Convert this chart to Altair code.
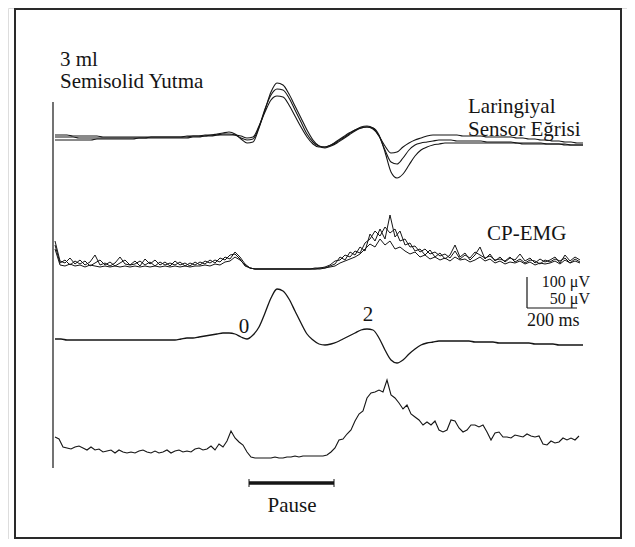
import altair as alt
import pandas as pd

# ---------------- data ----------------
# sampling intervals (ms)
DT_LAR = 24.0       # laryngeal sensor curves
DT_EMG = 20.0       # raw CP-EMG sweeps
DT_EMG_AVG = 16.0   # averaged CP-EMG

# laryngeal sensor sweeps (amplitude, arbitrary units, up = positive)
LAR_SWEEP_1 = [3, 3, 3, 3, 2, 2, 2, 2, 2, 2,
               2, 2, 2, 2, 2, 2, 3, 3, 3, 3,
               3, 3, 3, 4, 4, 5, 5, 6, 7, 8,
               6, 1, -3, -2, 12, 30, 48, 57, 55, 46,
               34, 22, 10, 0, -6, -8, -6, -3, 1, 5,
               9, 12, 13, 12, 5, -12, -32, -38, -34, -25,
               -16, -10, -7, -5, -4, -3, -3, -3, -3, -3,
               -3, -3, -3, -3, -3, -3, -3, -3, -4, -4,
               -4, -4, -4, -4, -4, -5, -5, -5, -5]
LAR_SWEEP_2 = [0, 0, 0, 0, 0, 0, 0, 1, 1, 1,
               1, 1, 1, 1, 2, 2, 2, 2, 2, 2,
               2, 2, 2, 3, 3, 4, 4, 5, 6, 6,
               5, 2, 0, 1, 13, 31, 45, 51, 50, 42,
               30, 18, 6, -2, -6, -7, -5, -2, 2, 6,
               10, 12, 13, 11, 4, -10, -22, -24, -18, -10,
               -5, -3, -2, -1, 0, 0, 0, -1, -1, -1,
               -1, -1, -2, -2, -2, -2, -2, -3, -3, -3,
               -3, -3, -4, -4, -4, -4, -5, -5, -5]
LAR_SWEEP_3 = [5, 5, 5, 4, 4, 4, 4, 4, 3, 3,
               3, 3, 3, 3, 3, 3, 3, 3, 3, 3,
               3, 3, 4, 4, 4, 4, 5, 5, 5, 5,
               5, 4, 2, 3, 14, 28, 40, 44, 43, 35,
               24, 13, 3, -4, -7, -7, -5, -1, 3, 7,
               10, 13, 14, 12, 4, -6, -13, -12, -7, -3,
               0, 2, 4, 5, 5, 5, 5, 5, 4, 4,
               4, 4, 3, 3, 3, 3, 3, 2, 2, 1,
               1, 0, 0, -1, -1, -2, -2, -3, -3]
# averaged laryngeal sensor curve
LAR_AVERAGE = [1, 1, 0, 0, 0, 0, 0, 0, 0, 0,
               0, 0, 0, 0, 0, 0, 0, 0, 0, 0,
               0, 1, 2, 2, 3, 4, 5, 6, 7, 7,
               6, 3, 1, 5, 13, 27, 42, 51, 49, 41,
               29, 17, 6, 0, -4, -5, -4, -2, 1, 4,
               7, 10, 11, 10, 2, -10, -20, -23, -20, -14,
               -9, -5, -3, -2, -1, -1, -1, -1, -1, -1,
               -2, -2, -2, -2, -3, -3, -3, -3, -3, -3,
               -4, -4, -4, -4, -5, -5, -5, -5, -5]

# raw CP-EMG sweeps (rectified amplitude, arbitrary units)
EMG_SWEEP_A = [28, 8, 6, 11, 5, 9, 4, 7, 14, 4,
               6, 3, 6, 12, 5, 4, 8, 3, 10, 5,
               9, 4, 7, 3, 8, 4, 6, 3, 7, 4,
               8, 6, 9, 7, 12, 10, 17, 12, 5, 1,
               0, 0, 0, 0, 0, 0, 0, 0, 0, 0,
               0, 0, 1, 1, 1, 3, 5, 12, 9, 17,
               14, 22, 18, 35, 28, 40, 30, 54, 32, 38,
               24, 26, 18, 20, 14, 19, 12, 16, 10, 14,
               24, 12, 16, 9, 14, 22, 10, 15, 8, 12,
               7, 11, 9, 15, 8, 11, 6, 10, 7, 9,
               12, 6, 14, 8, 12, 9]
EMG_SWEEP_B = [20, 4, 3, 5, 3, 4, 2, 4, 3, 2,
               3, 2, 3, 2, 3, 2, 3, 2, 3, 2,
               3, 2, 3, 2, 3, 2, 3, 2, 3, 3,
               4, 3, 5, 4, 7, 8, 12, 9, 4, 1,
               0, 0, 0, 0, 0, 0, 0, 0, 0, 0,
               0, 0, 0, 0, 1, 2, 3, 6, 8, 10,
               12, 15, 20, 25, 22, 30, 24, 28, 20, 22,
               18, 15, 17, 12, 14, 10, 12, 9, 11, 8,
               12, 9, 10, 7, 9, 12, 8, 10, 6, 8,
               5, 7, 6, 8, 5, 7, 4, 6, 5, 6,
               8, 5, 9, 6, 8, 6]
EMG_SWEEP_C = [24, 6, 9, 4, 8, 5, 8, 3, 6, 9,
               4, 7, 3, 6, 9, 4, 5, 8, 4, 7,
               3, 7, 4, 6, 4, 7, 3, 6, 4, 7,
               5, 9, 6, 11, 9, 14, 15, 10, 3, 1,
               0, 0, 0, 0, 0, 0, 0, 0, 0, 0,
               0, 0, 0, 1, 2, 4, 8, 9, 14, 12,
               18, 16, 26, 30, 38, 33, 42, 36, 40, 28,
               30, 22, 23, 17, 20, 15, 17, 13, 15, 11,
               18, 10, 14, 11, 17, 14, 11, 13, 9, 10,
               8, 12, 7, 10, 6, 9, 8, 5, 9, 7,
               10, 8, 11, 6, 10, 7]
# averaged CP-EMG
EMG_AVERAGE = [21, 19, 11, 10, 9, 11, 12, 10, 8, 11, 8,
               9, 6, 7, 8, 5, 8, 6, 5, 6, 5, 7,
               8, 6, 5, 7, 5, 6, 8, 5, 7, 8, 6,
               7, 6, 9, 10, 8, 9, 12, 8, 14, 11, 17,
               27, 20, 16, 13, 6, 1, 0, 0, 0, 0, 0,
               1, 0, 0, 1, 1, 2, 1, 2, 2, 2, 2,
               2, 2, 3, 6, 10, 18, 19, 24, 28, 37, 44,
               47, 60, 65, 66, 68, 66, 78, 63, 60, 55, 49,
               53, 44, 41, 38, 33, 36, 33, 37, 28, 26, 28,
               38, 37, 30, 26, 28, 33, 33, 31, 33, 26, 18,
               25, 26, 21, 21, 20, 23, 22, 21, 24, 22, 21,
               22, 14, 13, 17, 15, 16, 20, 18, 20, 18, 22]

# ---------------- layout (baselines of each trace, scale) ----------------
BASE_LAR, BASE_EMG, BASE_LAR_AVG, BASE_EMG_AVG = 140, 269, 340, 458
X_DOM = [-188, 2288]   # ms across the page width
Y_DOM = [8, 539]       # vertical layout units, top to bottom
INK = "#151515"
FONT = "Liberation Serif"


def sweep(values, dt, base, name):
    return pd.DataFrame({
        "t": [i * dt for i in range(len(values))],
        "y": [base - v for v in values],
        "sweep": name,
    })


lar = pd.concat([sweep(LAR_SWEEP_1, DT_LAR, BASE_LAR, "l1"),
                 sweep(LAR_SWEEP_2, DT_LAR, BASE_LAR, "l2"),
                 sweep(LAR_SWEEP_3, DT_LAR, BASE_LAR, "l3")])
emg = pd.concat([sweep(EMG_SWEEP_A, DT_EMG, BASE_EMG, "e1"),
                 sweep(EMG_SWEEP_B, DT_EMG, BASE_EMG, "e2"),
                 sweep(EMG_SWEEP_C, DT_EMG, BASE_EMG, "e3")])
lar_avg = sweep(LAR_AVERAGE, DT_LAR, BASE_LAR_AVG, "la")
emg_avg = sweep(EMG_AVERAGE, DT_EMG_AVG, BASE_EMG_AVG, "ea")

X = alt.X("t:Q", scale=alt.Scale(domain=X_DOM, nice=False, zero=False), axis=None)
Y = alt.Y("y:Q", scale=alt.Scale(domain=Y_DOM, nice=False, zero=False, reverse=True), axis=None)


def lines(df, width, interp):
    return alt.Chart(df).mark_line(color=INK, strokeWidth=width, interpolate=interp).encode(
        x=X, y=Y, detail="sweep:N")


layers = [
    lines(lar, 1.1, "monotone"),
    lines(emg, 1.0, "linear"),
    lines(lar_avg, 1.3, "monotone"),
    lines(emg_avg, 1.1, "linear"),
]

# vertical reference line, scale bars and pause bar
rules = pd.DataFrame([
    {"t": -8, "t2": -8, "y": 102, "y2": 468, "w": 1.2},        # start line
    {"t": 1888, "t2": 1888, "y": 277, "y2": 308, "w": 1.2},    # 50 µV bar
    {"t": 1888, "t2": 2088, "y": 308, "y2": 308, "w": 1.2},    # 200 ms bar
    {"t": 776, "t2": 1116, "y": 483, "y2": 483, "w": 3.5},     # pause bar
    {"t": 776, "t2": 776, "y": 479, "y2": 487, "w": 1.0},
    {"t": 1116, "t2": 1116, "y": 479, "y2": 487, "w": 1.0},
])
layers.append(alt.Chart(rules).mark_rule(color=INK).encode(
    x=X, x2="t2:Q", y=Y, y2="y2:Q",
    strokeWidth=alt.StrokeWidth("w:Q", scale=None)))

left_text = pd.DataFrame([
    {"t": 20, "y": 66, "text": "3 ml"},
    {"t": 20, "y": 88, "text": "Semisolid Yutma"},
    {"t": 1652, "y": 113, "text": "Laringiyal"},
    {"t": 1652, "y": 136, "text": "Sensor Eğrisi"},
    {"t": 1728, "y": 240, "text": "CP-EMG"},
])
center_text = pd.DataFrame([
    {"t": 756, "y": 333, "text": "0"},
    {"t": 1252, "y": 321, "text": "2"},
    {"t": 948, "y": 512, "text": "Pause"},
])
scale_right = pd.DataFrame([
    {"t": 2140, "y": 287, "text": "100 μV"},
    {"t": 2140, "y": 304, "text": "50 μV"},
])
scale_left = pd.DataFrame([
    {"t": 1888, "y": 326, "text": "200 ms"},
])
for df, align, size in [(left_text, "left", 21), (center_text, "center", 21),
                        (scale_right, "right", 16), (scale_left, "left", 18)]:
    layers.append(alt.Chart(df).mark_text(
        align=align, baseline="alphabetic", font=FONT, fontSize=size, color=INK
    ).encode(x=X, y=Y, text="text:N"))

# frame of the figure
layers.append(alt.Chart(pd.DataFrame({"k": [0]})).mark_rect(
    filled=False, stroke="#2a2a2a", strokeWidth=2).encode(
    x=alt.value(7), x2=alt.value(613), y=alt.value(1), y2=alt.value(530)))

chart = alt.layer(*layers).properties(
    width=619, height=531, padding=0, autosize=alt.AutoSizeParams(type="none")
).configure_view(stroke=None).configure(background="white")

chart.save("out.html", embed_options={"renderer": "svg", "actions": False})
